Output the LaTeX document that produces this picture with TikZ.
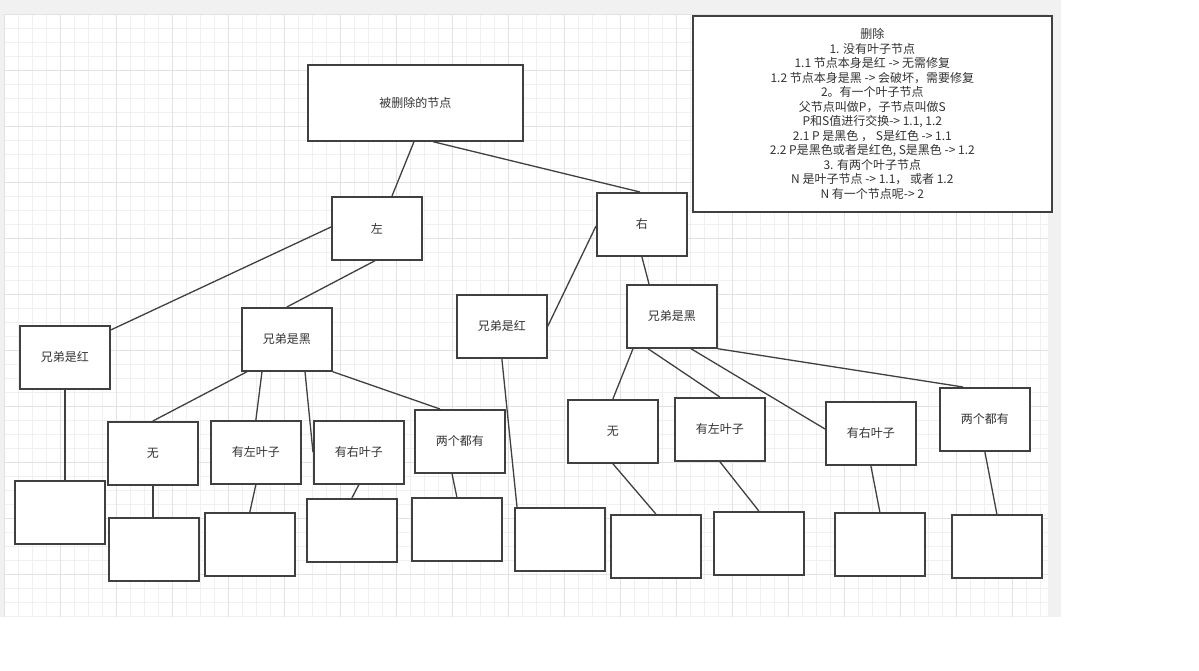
\documentclass[tikz,border=0pt]{standalone}
\usepackage{fontspec}
\setmainfont{Noto Sans CJK SC}
\usepackage{tikz}
\usetikzlibrary{calc, positioning}
\definecolor{boxline}{RGB}{64, 64, 64}
\definecolor{txtgray}{RGB}{51, 51, 51}
\definecolor{canvasgray}{RGB}{241, 241, 241}
\definecolor{gridminor}{RGB}{240, 240, 240}
\definecolor{gridmajor}{RGB}{226, 226, 226}

\tikzset{
  treebox/.style={draw=boxline, line width=1.7pt, fill=white, text=txtgray,
    minimum width=90pt, minimum height=63pt, inner sep=0pt, anchor=north west,
    font={\fontsize{12pt}{14.5pt}\selectfont}},
  link/.style={draw=boxline, line width=1.3pt},
}

\begin{document}
\begin{tikzpicture}[x=1pt, y=-1pt]
  \useasboundingbox (0,0) rectangle (1199,670);
  \fill[canvasgray] (0,0) rectangle (1061,617);
  \fill[white] (4,14) rectangle (1048,617);
  \foreach \gx in {4,18,...,1040} \draw[gridminor, line width=1pt] (\gx,14) -- (\gx,617);
  \foreach \gy in {14,28,...,616} \draw[gridminor, line width=1pt] (4,\gy) -- (1048,\gy);
  \foreach \gx in {4,60,...,1012} \draw[gridmajor, line width=1pt] (\gx,14) -- (\gx,617);
  \foreach \gy in {14,70,...,574} \draw[gridmajor, line width=1pt] (4,\gy) -- (1048,\gy);

  \node[treebox, minimum width=215pt, minimum height=76pt] (root) at (307,64) {被删除的节点};
  \node[treebox, minimum width=359pt, minimum height=196pt, align=center] (info) at (692,15) {
    删除\\
    1. 没有叶子节点\\
    1.1 节点本身是红 -> 无需修复\\
    1.2 节点本身是黑 -> 会破坏，需要修复\\
    2。有一个叶子节点\\
    父节点叫做P，子节点叫做S\\
    P和S值进行交换-> 1.1, 1.2\\
    2.1 P 是黑色 ， S是红色 -> 1.1\\
    2.2 P是黑色或者是红色, S是黑色 -> 1.2\\
    3. 有两个叶子节点\\
    N 是叶子节点 -> 1.1， 或者 1.2\\
    N 有一个节点呢-> 2
  };

  \node[treebox] (left) at (331,196) {左};
  \node[treebox] (right) at (596,192) {右};
  \node[treebox] (leftRed) at (19,325) {兄弟是红};
  \node[treebox] (leftBlack) at (241,307) {兄弟是黑};
  \node[treebox] (rightRed) at (456,294) {兄弟是红};
  \node[treebox] (rightBlack) at (626,284) {兄弟是黑};

  \node[treebox] (lbNone) at (107,421) {无};
  \node[treebox] (lbLeft) at (210,420) {有左叶子};
  \node[treebox] (lbRight) at (313,420) {有右叶子};
  \node[treebox] (lbBoth) at (414,409) {两个都有};
  \node[treebox] (rbNone) at (567,399) {无};
  \node[treebox] (rbLeft) at (674,397) {有左叶子};
  \node[treebox] (rbRight) at (825,401) {有右叶子};
  \node[treebox] (rbBoth) at (939,387) {两个都有};

  \node[treebox] (leftRedSub) at (14,480) {};
  \node[treebox] (lbNoneSub) at (108,517) {};
  \node[treebox] (lbLeftSub) at (204,512) {};
  \node[treebox] (lbRightSub) at (306,498) {};
  \node[treebox] (lbBothSub) at (411,497) {};
  \node[treebox] (rightRedSub) at (514,507) {};
  \node[treebox] (rbNoneSub) at (610,514) {};
  \node[treebox] (rbLeftSub) at (713,511) {};
  \node[treebox] (rbRightSub) at (834,512) {};
  \node[treebox] (rbBothSub) at (951,514) {};

  \draw[link] ($(root.south west)+(107,0)$) -- ($(left.north west)+(61,0)$);
  \draw[link] ($(root.south west)+(126,0)$) -- ($(right.north west)+(44,0)$);
  \draw[link] ($(left.north west)+(0,31)$) -- ($(leftRed.north east)+(0,5)$);
  \draw[link] ($(left.south west)+(44,0)$) -- (leftBlack.north);
  \draw[link] ($(right.north west)+(0,34)$) -- (rightRed.east);
  \draw[link] (right.south) -- ($(rightBlack.north west)+(23,0)$);

  \draw[link] (leftRed.south) -- (leftRed.south |- leftRedSub.north);
  \draw[link] ($(leftBlack.south west)+(6,0)$) -- (lbNone.north);
  \draw[link] ($(leftBlack.south west)+(21,0)$) -- (lbLeft.north);
  \draw[link] ($(leftBlack.south west)+(64,0)$) -- (lbRight.west);
  \draw[link] (leftBlack.south east) -- ($(lbBoth.north west)+(26,0)$);
  \draw[link] (rightRed.south) -- ($(rightRedSub.north west)+(3,0)$);
  \draw[link] ($(rightBlack.south west)+(7,0)$) -- (rbNone.north);
  \draw[link] ($(rightBlack.south west)+(22,0)$) -- (rbLeft.north);
  \draw[link] ($(rightBlack.south west)+(65,0)$) -- ($(rbRight.north west)+(0,28)$);
  \draw[link] (rightBlack.south east) -- ($(rbBoth.north west)+(24,0)$);

  \draw[link] (lbNone.south) -- (lbNone.south |- lbNoneSub.north);
  \draw[link] (lbLeft.south) -- (lbLeftSub.north);
  \draw[link] (lbRight.south) -- (lbRightSub.north);
  \draw[link] ($(lbBoth.south west)+(38,0)$) -- (lbBothSub.north);
  \draw[link] (rbNone.south) -- (rbNoneSub.north);
  \draw[link] (rbLeft.south) -- (rbLeftSub.north);
  \draw[link] (rbRight.south) -- (rbRightSub.north);
  \draw[link] (rbBoth.south) -- (rbBothSub.north);
\end{tikzpicture}
\end{document}
